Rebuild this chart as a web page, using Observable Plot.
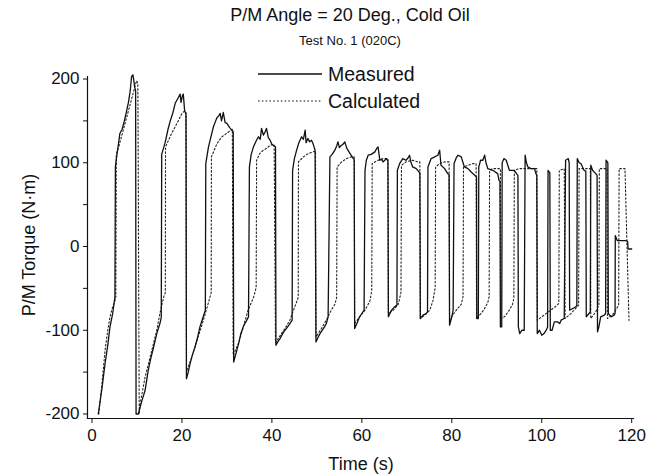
<!DOCTYPE html>
<html><head><meta charset="utf-8">
<script src="https://cdn.jsdelivr.net/npm/d3@7"></script>
<script src="https://cdn.jsdelivr.net/npm/@observablehq/plot@0.6"></script>
<style>
body{margin:0;background:#fff;}
#wrap{position:relative;width:649px;height:475px;font-family:"Liberation Sans",Arial,Helvetica,sans-serif;color:#111;overflow:hidden;}
.abs{position:absolute;white-space:nowrap;}
#title{left:0;width:700px;text-align:center;top:5px;font-size:18px;}
#sub{left:0;width:700px;text-align:center;top:33px;font-size:13px;}
#ylab{left:29px;top:245px;font-size:18px;transform:translate(-50%,-50%) rotate(-90deg);}
#xlab{left:361px;top:464px;font-size:18px;transform:translate(-50%,-50%);}
#legend{left:256px;top:62px;}
</style></head><body>
<div id="wrap">
<div id="chart"></div>
<div id="title" class="abs">P/M Angle = 20 Deg., Cold Oil</div>
<div id="sub" class="abs">Test No. 1 (020C)</div>
<div id="ylab" class="abs">P/M Torque (N·m)</div>
<div id="xlab" class="abs">Time (s)</div>
<div id="legend" class="abs"></div>
</div>
<script>
// Measured torque (time s, torque N·m)
const measuredTime = [1.4,2.2,2.9,3.5,4.0,4.6,5.1,5.2,5.6,5.9,6.2,6.4,6.7,7.2,7.7,8.1,8.5,8.8,9.1,9.3,9.5,9.7,9.8,
10.3,10.7,11.1,11.8,12.5,13.1,13.7,14.4,15.1,15.4,15.5,16.3,16.9,17.4,18.0,18.5,19.2,19.6,19.8,20.1,20.3,20.6,20.9,21.0,
21.4,21.8,22.3,22.9,23.5,24.0,24.6,25.2,25.3,25.9,26.5,27.0,27.5,27.8,28.2,28.5,28.8,29.2,29.6,30.0,30.6,31.1,31.4,31.5,
32.0,32.6,33.1,33.7,34.2,34.8,35.0,35.4,35.9,36.5,37.0,37.4,37.7,38.1,38.5,38.8,39.2,39.6,40.0,40.5,40.8,40.9,
41.3,41.8,42.4,42.9,43.5,44.0,44.5,44.6,45.0,45.5,46.0,46.6,47.0,47.4,47.6,48.0,48.4,48.8,49.2,49.6,49.8,
50.3,50.7,51.2,51.7,52.1,52.5,52.9,53.4,54.0,54.4,54.7,55.0,55.3,55.8,56.2,56.6,56.9,57.5,58.1,58.3,58.4,
58.9,59.5,60.0,60.5,60.7,61.0,61.4,62.1,62.9,63.3,63.6,64.0,64.4,64.7,65.1,65.5,65.8,65.9,
66.6,67.3,67.8,67.9,68.4,69.1,69.8,70.3,70.6,70.9,71.3,72.1,72.7,72.9,73.0,73.6,74.3,74.6,74.7,75.4,76.2,76.9,77.3,77.6,78.4,79.1,79.4,79.5,
80.0,80.3,80.5,81.0,81.4,82.1,82.5,82.8,83.6,84.3,85.1,85.5,85.55,85.9,86.0,86.4,86.9,87.3,87.6,88.0,89.1,90.2,90.5,90.7,90.8,
91.1,91.2,91.6,92.1,92.8,93.9,94.4,94.7,94.8,95.1,95.6,96.1,96.3,96.6,96.9,97.6,98.4,98.7,98.9,99.0,
99.5,100.0,100.5,101.0,101.3,101.4,101.8,101.9,102.3,102.8,103.5,104.0,104.3,105.0,105.3,105.9,106.1,106.2,
106.9,107.6,107.8,107.9,108.3,108.7,109.4,109.8,109.9,110.5,110.8,110.9,111.3,112.0,112.3,112.4,112.7,113.1,113.9,114.2,114.3,114.7,114.8,
115.4,116.1,116.3,116.35,116.8,117.6,118.7,119.1,119.2,120.0];
const measuredTorque = [-200,-170,-140,-118,-96,-80,-60,95,112,123,135,137,140,150,162,172,186,203,205,198,190,186,-200,
-200,-192,-184,-172,-148,-133,-120,-104,-92,-85,110,125,140,150,160,171,178,182,172,180,182,162,158,-158,
-150,-140,-130,-120,-108,-96,-86,-76,99,119,132,143,150,154,156,159,150,160,148,147,142,139,137,-138,
-128,-116,-104,-95,-90,-84,95,110,119,126,131,128,141,133,137,141,130,127,122,120,119,-118,
-114,-110,-104,-100,-96,-92,-88,91,105,115,124,131,128,139,124,129,125,127,122,115,-114,
-108,-104,-100,-96,-92,-84,107,110,115,120,125,118,120,122,125,118,115,110,105,104,-98,
-92,-84,-80,-76,91,103,109,110,113,117,119,103,104,101,103,105,102,-84,
-76,-72,-70,91,99,105,103,106,109,101,95,93,89,88,-86,-82,-80,-78,95,105,107,109,115,97,93,87,86,-94,
-84,-76,99,106,109,107,100,95,93,89,85,83,-86,-86,95,103,103,109,100,93,91,87,79,78,-96,
-96,100,105,103,91,91,87,85,-96,-104,-100,-100,109,100,95,93,93,87,85,-104,
-100,-106,-104,-100,-96,91,88,-100,-100,-90,-90,-92,-88,-86,103,105,100,-76,
-74,-72,-70,105,100,99,91,90,-84,-80,-78,97,91,87,85,-102,-96,-84,-82,-80,103,100,-80,
-84,-82,-80,13,7,7,7,6,-3,-3];

// Calculated torque (time s, torque N·m)
const calculatedTime = [1.5,2.2,2.9,3.5,4.0,4.6,5.1,5.3,5.4,6.0,7.0,8.0,9.0,9.6,9.9,10.2,
10.5,10.7,11.8,13.3,14.4,15.1,15.9,16.3,16.35,17.7,18.9,20.0,20.6,20.9,21.0,
22.0,23.0,24.2,25.2,26.0,26.5,26.55,27.8,28.9,30.4,31.2,31.4,
32.6,33.7,34.7,35.9,36.5,36.6,37.3,38.1,38.8,39.6,40.5,40.8,
42.0,42.9,44.0,44.8,45.85,45.9,47.0,48.1,49.2,49.7,49.8,
51.0,52.1,53.2,54.0,54.4,54.5,55.5,56.6,57.7,58.3,58.4,
59.5,60.7,61.8,62.2,62.3,63.6,64.7,65.8,65.9,
67.0,68.1,68.7,68.8,69.8,71.3,72.4,72.9,73.0,
74.0,75.1,75.8,76.3,76.4,77.3,78.4,79.4,79.5,
80.2,81.0,82.1,82.5,82.6,83.6,84.7,85.4,85.5,
86.5,87.2,88.0,88.3,88.4,89.1,90.2,90.8,90.9,
91.7,92.8,93.5,93.8,93.9,95.0,97.0,98.9,99.0,
100.0,101.5,103.0,103.8,103.9,105.0,105.2,106.5,108.2,108.3,110.0,110.8,110.9,112.0,112.7,112.8,114.0,114.5,114.6,116.0,117.1,117.2,118.5,119.4,119.45,120.0];
const calculatedTorque = [-200,-165,-124,-100,-84,-72,-65,-60,110,120,140,160,180,192,198,195,
-200,-188,-156,-124,-100,-80,-61,-55,119,135,147,159,162,160,-150,
-135,-118,-98,-80,-65,-55,107,123,131,137,140,-130,
-115,-95,-76,-61,-49,103,111,115,117,121,122,-115,
-105,-98,-88,-76,-61,101,107,111,113,114,-108,
-98,-88,-76,-69,-61,95,101,105,107,107,-92,
-84,-76,-65,-53,99,103,105,105,-80,
-76,-69,-55,97,101,103,101,101,-86,
-82,-76,-65,-49,95,99,101,101,-88,
-82,-76,-69,-60,95,97,99,99,-86,
-80,-75,-67,-60,91,93,93,93,-86,
-84,-76,-69,-62,91,93,93,93,-88,
-84,-78,-72,-68,91,93,-86,-80,-70,93,93,93,-86,-78,-70,93,93,93,-86,-80,-70,93,93,-88,-88];

const measured = measuredTime.map((t,i)=>({t, v: measuredTorque[i]}));
const calculated = calculatedTime.map((t,i)=>({t, v: calculatedTorque[i]}));

const xTicks = [0,20,40,60,80,100,120];
const yTicks = [-200,-150,-100,-50,0,50,100,150,200];
const yLabels = [-200,-100,0,100,200];

const chart = Plot.plot({
  width: 649, height: 475,
  marginLeft: 87, marginRight: 16, marginTop: 76, marginBottom: 57,
  style: {fontFamily: '"Liberation Sans", Arial, Helvetica, sans-serif', fontSize: "17px", color: "#111", background: "#fff"},
  x: {domain: [-1.0, 120.4]},
  y: {domain: [-205.4, 203]},
  marks: [
    Plot.axisX({ticks: xTicks, tickSize: 5, tickPadding: 5, label: null, fontSize: 17, tickFormat: d => String(d)}),
    Plot.axisY({ticks: yTicks, tickSize: 4, tickPadding: 4, label: null, fontSize: 17,
      tickFormat: d => yLabels.includes(d) ? String(d) : ""}),
    Plot.frame({anchor: "left", stroke: "#111", strokeWidth: 1.2}),
    Plot.frame({anchor: "bottom", stroke: "#111", strokeWidth: 1.2}),
    Plot.line(calculated, {x: "t", y: "v", stroke: "#222", strokeWidth: 1.1, strokeDasharray: "1.6,2.2"}),
    Plot.line(measured, {x: "t", y: "v", stroke: "#111", strokeWidth: 1.3})
  ]
});
document.getElementById("chart").appendChild(chart);

const series = ["Measured", "Calculated"];
const dashes = ["none", "1.6,2.2"];
document.getElementById("legend").innerHTML =
  '<svg width="200" height="52" style="overflow:visible">' +
  series.map((s,i)=>`<line x1="2" x2="66" y1="${12+i*27}" y2="${12+i*27}" stroke="#111" stroke-width="${i?1.1:1.3}" stroke-dasharray="${dashes[i]}"/>` +
   `<text x="72" y="${19+i*27}" font-size="19.5" fill="#111" font-family="Liberation Sans, Arial, sans-serif">${s}</text>`).join("") +
  '</svg>';
</script>
</body></html>
